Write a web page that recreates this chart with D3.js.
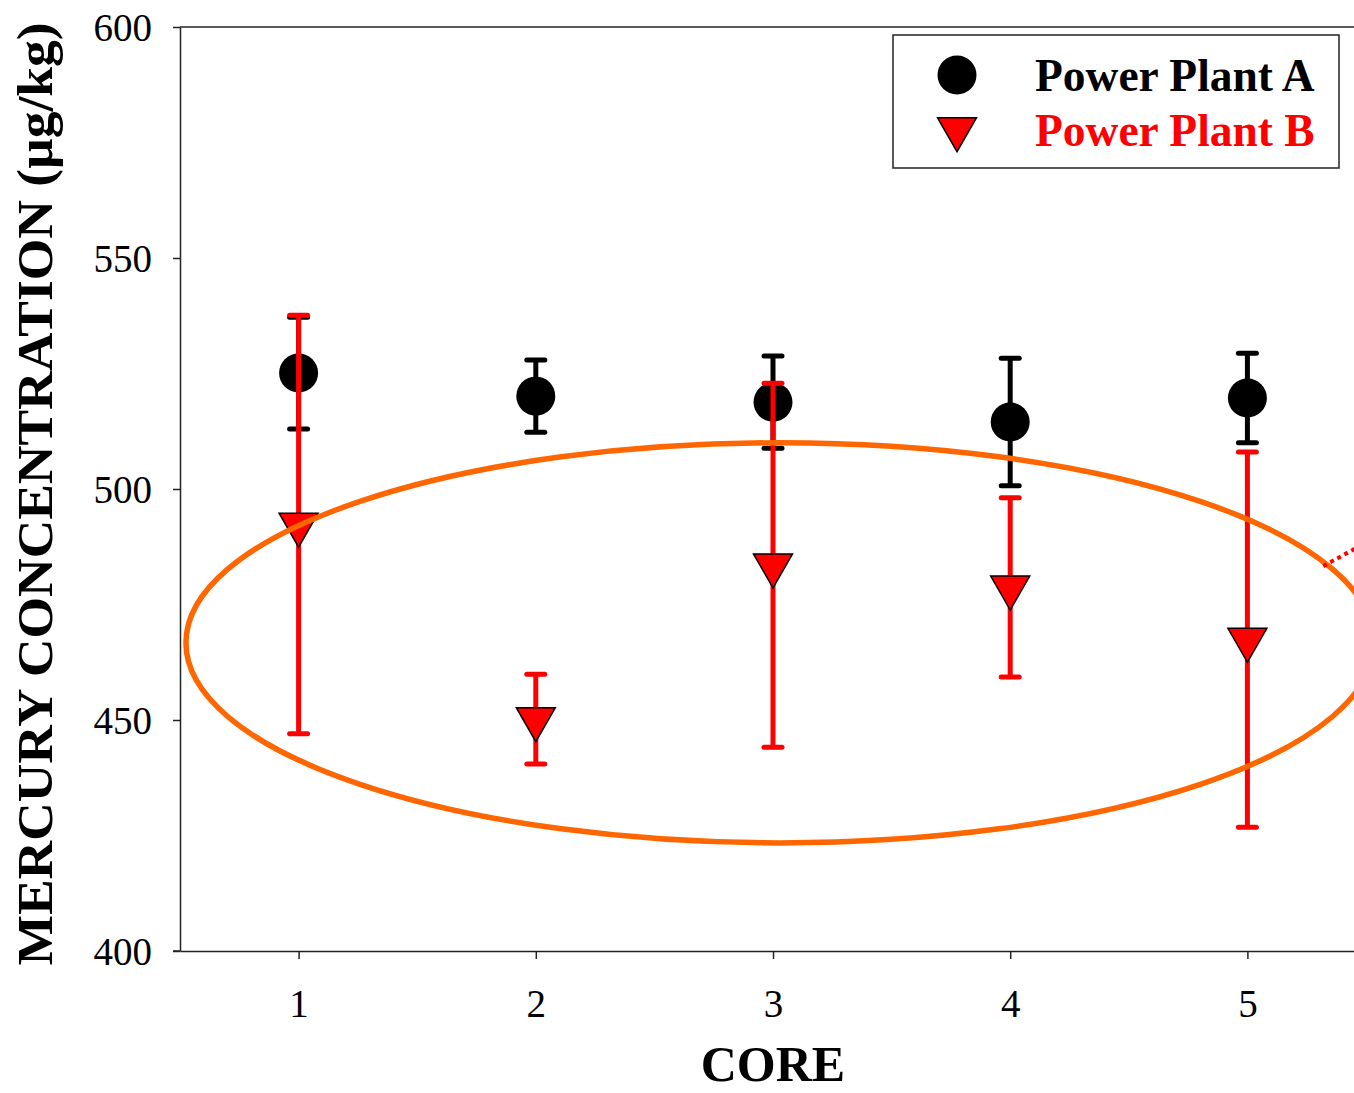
<!DOCTYPE html>
<html>
<head>
<meta charset="utf-8">
<script src="https://cdn.jsdelivr.net/npm/d3@7"></script>
<style>
  html, body { margin: 0; padding: 0; background: #fff; }
  svg { display: block; }
  text { font-family: "Liberation Serif", "Times New Roman", serif; }
</style>
</head>
<body>
<svg id="chart" width="1354" height="1093"></svg>
<script>
// ---- data ----
const cores = [1, 2, 3, 4, 5];
const plantA = [525.1, 520.1, 518.8, 514.5, 519.7];
const plantAErr = [12.1, 7.8, 10.0, 13.8, 9.7];
const plantB = [492.3, 450.2, 483.5, 478.7, 467.4];
const plantBErr = [45.3, 9.7, 39.4, 19.4, 40.6];
const yTicks = [400, 450, 500, 550, 600];
const xTicks = [1, 2, 3, 4, 5];
const seriesNames = ["Power Plant A", "Power Plant B"];
const xTitle = "CORE";
const yTitle = "MERCURY CONCENTRATION (\u00b5g/kg)";
// annotation ellipse (data units)
const ellipseCenter = [3.03, 466.7];
const ellipseRadii = [2.505, 43.3];
const dottedLine = [[5.32, 483.3], [5.5, 488.4]];

// ---- layout ----
const svg = d3.select("#chart");
const mLeft = 180, mRight = 1366, mTop = 27, mBottom = 951;
const x = d3.scaleLinear().domain([0.5, 5.5]).range([mLeft, mRight]);
const y = d3.scaleLinear().domain([400, 600]).range([mBottom, mTop]);
const axisColor = "#222";
const red = "#ff0000";

// frame (top/right lines)
svg.append("line").attr("x1", mLeft).attr("x2", mRight).attr("y1", mTop).attr("y2", mTop)
  .attr("stroke", axisColor).attr("stroke-width", 1.5);
svg.append("line").attr("x1", mRight).attr("x2", mRight).attr("y1", mTop).attr("y2", mBottom)
  .attr("stroke", axisColor).attr("stroke-width", 1.5);

// y axis
const yAxis = svg.append("g").attr("transform", `translate(${mLeft},0)`)
  .call(d3.axisLeft(y).tickValues(yTicks).tickSize(7).tickSizeOuter(0).tickPadding(21));
yAxis.select(".domain").attr("stroke", axisColor).attr("stroke-width", 1.5);
yAxis.selectAll(".tick line").attr("stroke", axisColor).attr("stroke-width", 1.5);
yAxis.selectAll(".tick text").attr("font-size", 39).attr("fill", "#000")
  .attr("font-family", "'Liberation Serif', serif").attr("dy", "0.34em");

// x axis
const xAxis = svg.append("g").attr("transform", `translate(0,${mBottom})`)
  .call(d3.axisBottom(x).tickValues(xTicks).tickFormat(d3.format("d")).tickSize(8).tickSizeOuter(0).tickPadding(30));
xAxis.select(".domain").attr("stroke", axisColor).attr("stroke-width", 1.5);
xAxis.selectAll(".tick line").attr("stroke", axisColor).attr("stroke-width", 1.5);
xAxis.selectAll(".tick text").attr("font-size", 39).attr("fill", "#000")
  .attr("font-family", "'Liberation Serif', serif");
svg.append("line").attr("x1", mLeft - 7).attr("x2", mLeft).attr("y1", mBottom).attr("y2", mBottom)
  .attr("stroke", axisColor).attr("stroke-width", 1.5);

// titles
svg.append("text").attr("x", x(3)).attr("y", 1081).attr("text-anchor", "middle")
  .attr("font-size", 50).attr("font-weight", "bold").text(xTitle);
svg.append("text").attr("transform", `translate(52,494) rotate(-90)`).attr("text-anchor", "middle")
  .attr("font-size", 50).attr("font-weight", "bold")
  .attr("textLength", 943).attr("lengthAdjust", "spacingAndGlyphs").text(yTitle);

// error bar helper
function errorBars(g, vals, errs, color) {
  const capW = 9;
  cores.forEach((c, i) => {
    const cx = x(c), y1 = y(vals[i] + errs[i]), y2 = y(vals[i] - errs[i]);
    g.append("line").attr("x1", cx).attr("x2", cx).attr("y1", y1).attr("y2", y2)
      .attr("stroke", color).attr("stroke-width", 5);
    [y1, y2].forEach(yy => g.append("line").attr("x1", cx - capW).attr("x2", cx + capW)
      .attr("y1", yy).attr("y2", yy).attr("stroke", color).attr("stroke-width", 5)
      .attr("stroke-linecap", "round"));
  });
}

function triPath(cx, cy) {
  const w = 39, h = 34;
  return `M${cx - w / 2},${cy - h / 3}L${cx + w / 2},${cy - h / 3}L${cx},${cy + 2 * h / 3}Z`;
}

// Plant A
const gA = svg.append("g");
errorBars(gA, plantA, plantAErr, "#000");
gA.selectAll("circle").data(cores).enter().append("circle")
  .attr("cx", d => x(d)).attr("cy", (d, i) => y(plantA[i])).attr("r", 19.5).attr("fill", "#000");

// Plant B
const gB = svg.append("g");
errorBars(gB, plantB, plantBErr, red);
gB.selectAll("path.tri").data(cores).enter().append("path").attr("class", "tri")
  .attr("d", (d, i) => triPath(x(d), y(plantB[i])))
  .attr("fill", red).attr("stroke", "#000").attr("stroke-width", 1.5).attr("stroke-linejoin", "miter");

// annotation ellipse
svg.append("ellipse")
  .attr("cx", x(ellipseCenter[0])).attr("cy", y(ellipseCenter[1]))
  .attr("rx", x(ellipseCenter[0] + ellipseRadii[0]) - x(ellipseCenter[0]))
  .attr("ry", y(ellipseCenter[1] - ellipseRadii[1]) - y(ellipseCenter[1]))
  .attr("fill", "none").attr("stroke", "#ff6600").attr("stroke-width", 5.5);
svg.append("line")
  .attr("x1", x(dottedLine[0][0])).attr("y1", y(dottedLine[0][1]))
  .attr("x2", x(dottedLine[1][0])).attr("y2", y(dottedLine[1][1]))
  .attr("stroke", red).attr("stroke-width", 4).attr("stroke-dasharray", "4,4");

// legend
const lg = svg.append("g");
lg.append("rect").attr("x", 893).attr("y", 35).attr("width", 446).attr("height", 133)
  .attr("fill", "#fff").attr("stroke", "#222").attr("stroke-width", 1.5);
lg.append("circle").attr("cx", 957).attr("cy", 75).attr("r", 19.5).attr("fill", "#000");
lg.append("path").attr("d", triPath(957, 129)).attr("fill", red).attr("stroke", "#000").attr("stroke-width", 1.5);
lg.append("text").attr("x", 1035).attr("y", 91).attr("font-size", 45.5).attr("font-weight", "bold")
  .attr("fill", "#000").text(seriesNames[0]);
lg.append("text").attr("x", 1035).attr("y", 146).attr("font-size", 45.5).attr("font-weight", "bold")
  .attr("fill", red).text(seriesNames[1]);
</script>
</body>
</html>
